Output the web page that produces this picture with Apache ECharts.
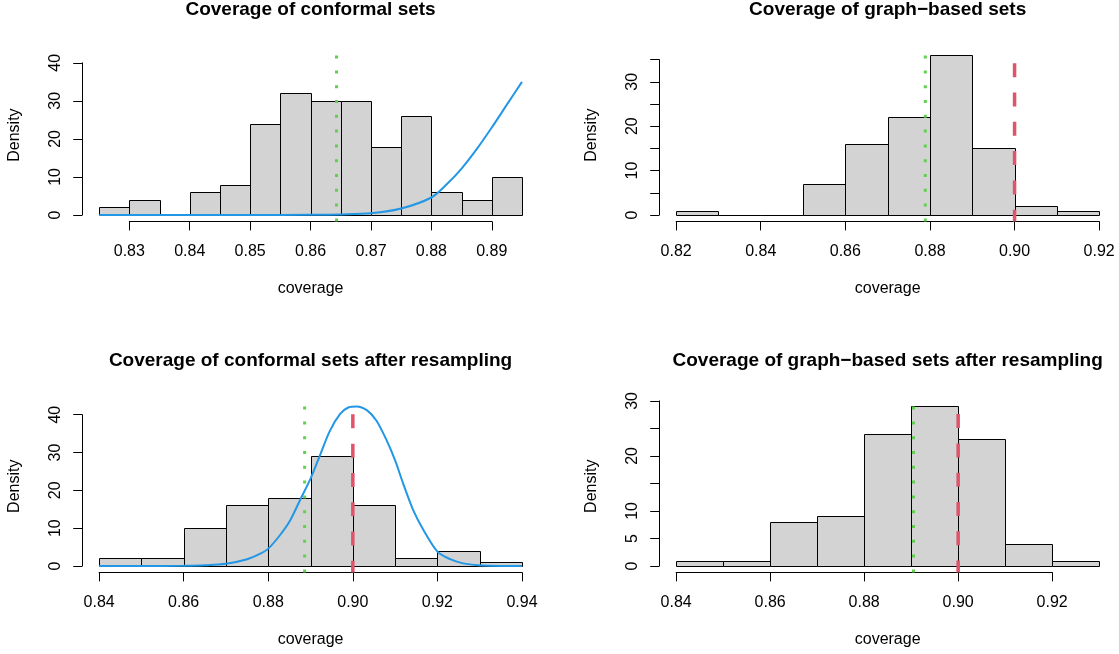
<!DOCTYPE html>
<html>
<head>
<meta charset="utf-8">
<script src="https://cdn.jsdelivr.net/npm/echarts@6/dist/echarts.min.js"></script>
<style>
  html, body { margin: 0; padding: 0; background: #fff; }
  #main { width: 1119px; height: 654px; }
</style>
</head>
<body>
<div id="main"></div>
<script>
// ---- data ----

// Coverage of conformal sets
const conformalBreaks = [0.825, 0.830, 0.835, 0.840, 0.845, 0.850, 0.855, 0.860, 0.865, 0.870, 0.875, 0.880, 0.885, 0.890, 0.895];
const conformalDensity = [2, 4, 0, 6, 8, 24, 32, 30, 30, 18, 26, 6, 4, 10];
const conformalCurveX = [0.825, 0.840, 0.850, 0.860, 0.865, 0.870, 0.875, 0.880, 0.8825, 0.885, 0.8875, 0.890, 0.8925, 0.895];
const conformalCurveY = [0, 0, 0, 0.05, 0.15, 0.45, 1.7, 4.6, 8.0, 12.2, 17.3, 23.0, 29.0, 35.0];
const conformalMean = 0.8643;

// Coverage of graph-based sets
const graphBreaks = [0.82, 0.83, 0.84, 0.85, 0.86, 0.87, 0.88, 0.89, 0.90, 0.91, 0.92];
const graphDensity = [1, 0, 0, 7, 16, 22, 36, 15, 2, 1];
const graphMean = 0.8789;

// Coverage of conformal sets after resampling
const conformalResBreaks = [0.84, 0.85, 0.86, 0.87, 0.88, 0.89, 0.90, 0.91, 0.92, 0.93, 0.94];
const conformalResDensity = [2, 2, 10, 16, 18, 29, 16, 2, 4, 1];
const conformalResCurveX = [0.840, 0.850, 0.860, 0.865, 0.870, 0.875, 0.878, 0.880, 0.8828, 0.8852, 0.8875, 0.890, 0.8922,
    0.8946, 0.897, 0.8989, 0.9009, 0.9033, 0.9056, 0.908, 0.910, 0.9119, 0.9143, 0.9167, 0.920, 0.923, 0.9261, 0.9297, 0.935, 0.940];
const conformalResCurveY = [0, 0, 0.05, 0.2, 0.6, 1.8, 3.2, 4.6, 8.2, 12.1, 17.4, 23.1, 29.2,
    35.8, 40.2, 41.9, 42.2, 41.2, 38.4, 33.2, 27.9, 21.8, 14.7, 9.5, 3.8, 1.8, 0.7, 0.2, 0.02, 0];
const conformalResMean = 0.8886;

// Coverage of graph-based sets after resampling
const graphResBreaks = [0.84, 0.85, 0.86, 0.87, 0.88, 0.89, 0.90, 0.91, 0.92, 0.93];
const graphResDensity = [1, 1, 8, 9, 24, 29, 23, 4, 1];
const graphResMean = 0.8905;

const targetCoverage = 0.90;
const yLimits = [42, 36, 42.2, 29];
const targetTops = [null, 34.2, 40.1, 27.6];

// tick labels
const xTicks1 = [0.83, 0.84, 0.85, 0.86, 0.87, 0.88, 0.89];
const xTicks2 = [0.82, 0.84, 0.86, 0.88, 0.90, 0.92];
const xTicks3 = [0.84, 0.86, 0.88, 0.90, 0.92, 0.94];
const xTicks4 = [0.84, 0.86, 0.88, 0.90, 0.92];
const yTicks1 = [0, 10, 20, 30, 40];
const yTicks2 = [0, 5, 10, 15, 20, 25, 30, 35];
const yTicks3 = [0, 10, 20, 30, 40];
const yTicks4 = [0, 5, 10, 15, 20, 25, 30];
const yLabels2 = [0, 10, 20, 30];
const yLabels4 = [0, 5, 10, 20, 30];

const titles = [
    'Coverage of conformal sets',
    'Coverage of graph\u2212based sets',
    'Coverage of conformal sets after resampling',
    'Coverage of graph\u2212based sets after resampling'
];

// ---- layout ----
const FONT = '"Liberation Sans", Arial, Helvetica, sans-serif';
const BLUE = '#2297E6', GREEN = '#61D04F', RED = '#DF536B';

const panels = [
    { left: 82.2, top: 48.8, width: 456.7, height: 172.6, breaks: conformalBreaks, dens: conformalDensity,
      curveX: conformalCurveX, curveY: conformalCurveY, mean: conformalMean, ymax: yLimits[0], redTop: targetTops[0],
      xTicks: xTicks1, yTicks: yTicks1, yLabels: yTicks1, title: titles[0] },
    { left: 659.2, top: 48.8, width: 456.9, height: 172.6, breaks: graphBreaks, dens: graphDensity,
      mean: graphMean, ymax: yLimits[1], redTop: targetTops[1],
      xTicks: xTicks2, yTicks: yTicks2, yLabels: yLabels2, title: titles[1] },
    { left: 82.2, top: 400, width: 456.7, height: 172.4, breaks: conformalResBreaks, dens: conformalResDensity,
      curveX: conformalResCurveX, curveY: conformalResCurveY, mean: conformalResMean, ymax: yLimits[2], redTop: targetTops[2],
      xTicks: xTicks3, yTicks: yTicks3, yLabels: yTicks3, title: titles[2] },
    { left: 659.2, top: 400, width: 456.9, height: 172.4, breaks: graphResBreaks, dens: graphResDensity,
      mean: graphResMean, ymax: yLimits[3], redTop: targetTops[3],
      xTicks: xTicks4, yTicks: yTicks4, yLabels: yLabels4, title: titles[3] }
];

const grids = [], xAxes = [], yAxes = [], series = [], graphics = [];

const hidden = { show: false };
const txt = { color: '#000', fontFamily: FONT, fontSize: 16 };

panels.forEach((p, i) => {
    // R style: 4% padding on both axes
    const x0 = p.breaks[0], x1 = p.breaks[p.breaks.length - 1];
    const xpad = (x1 - x0) * 0.04;
    const xmin = x0 - xpad, xmax = x1 + xpad;
    const ymin = -0.04 * p.ymax, ymax = 1.04 * p.ymax;
    const px = v => p.left + (v - xmin) / (xmax - xmin) * p.width;
    const py = v => p.top + (ymax - v) / (ymax - ymin) * p.height;

    const g = grids.length;

    // data grid (plot region)
    grids.push({ left: p.left, top: p.top, width: p.width, height: p.height, containLabel: false, outerBoundsMode: 'none' });
    xAxes.push({
        gridIndex: g, type: 'value', min: xmin, max: xmax,
        axisLine: hidden, axisTick: hidden, axisLabel: hidden, splitLine: hidden,
        name: 'coverage', nameLocation: 'middle', nameGap: 59, nameTextStyle: txt
    });
    yAxes.push({
        gridIndex: g, type: 'value', min: ymin, max: ymax,
        axisLine: hidden, axisTick: hidden, axisLabel: hidden, splitLine: hidden,
        name: 'Density', nameLocation: 'middle', nameRotate: 90, nameGap: 60, nameTextStyle: txt
    });

    // x axis drawn from first to last tick
    const xa = p.xTicks[0], xb = p.xTicks[p.xTicks.length - 1];
    grids.push({ left: px(xa), top: p.top, width: px(xb) - px(xa), height: p.height, containLabel: false, outerBoundsMode: 'none' });
    xAxes.push({
        gridIndex: g + 1, type: 'value', min: xa, max: xb, interval: p.xTicks[1] - p.xTicks[0],
        axisLine: { show: true, lineStyle: { color: '#000', width: 1 } },
        axisTick: { show: true, length: 9, lineStyle: { color: '#000', width: 1 } },
        axisLabel: { margin: 22, ...txt, formatter: v => v.toFixed(2) },
        splitLine: hidden
    });
    yAxes.push({ gridIndex: g + 1, type: 'value', min: 0, max: 1, show: false });

    // y axis drawn from 0 to top tick
    const ya = p.yTicks[0], yb = p.yTicks[p.yTicks.length - 1];
    const shown = p.yLabels;
    grids.push({ left: p.left, top: py(yb), width: p.width, height: py(ya) - py(yb), containLabel: false, outerBoundsMode: 'none' });
    xAxes.push({ gridIndex: g + 2, type: 'value', min: 0, max: 1, show: false });
    yAxes.push({
        gridIndex: g + 2, type: 'value', min: ya, max: yb, interval: p.yTicks[1] - p.yTicks[0],
        axisLine: { show: true, lineStyle: { color: '#000', width: 1 } },
        axisTick: { show: true, length: 9, lineStyle: { color: '#000', width: 1 } },
        axisLabel: { margin: 19, rotate: 90, ...txt,
            formatter: v => shown.indexOf(Math.round(v)) >= 0 ? String(Math.round(v)) : '' },
        splitLine: hidden
    });

    // histogram bars
    const bars = p.dens.map((d, k) => [p.breaks[k], p.breaks[k + 1], d]);
    series.push({
        type: 'custom', xAxisIndex: g, yAxisIndex: g, z: 2,
        data: bars,
        encode: { x: [0, 1], y: 2 },
        renderItem: (params, api) => {
            const a = api.coord([api.value(0), 0]);
            const b = api.coord([api.value(1), api.value(2)]);
            const xl = Math.round(a[0]) + 0.5, xr = Math.round(b[0]) + 0.5;
            const yb0 = Math.round(a[1]) + 0.5, yt = Math.round(b[1]) + 0.5;
            return {
                type: 'rect',
                shape: { x: xl, y: yt, width: xr - xl, height: yb0 - yt },
                style: { fill: '#D3D3D3', stroke: '#000', lineWidth: 1 }
            };
        }
    });

    // normal density curve
    if (p.curveX) {
        series.push({
            type: 'line', xAxisIndex: g, yAxisIndex: g, z: 3,
            data: p.curveX.map((x, k) => [x, p.curveY[k]]),
            smooth: 0.3, showSymbol: false, symbol: 'none',
            lineStyle: { color: BLUE, width: 2 }
        });
    }

    // mean coverage (green dotted)
    series.push({
        type: 'line', xAxisIndex: g, yAxisIndex: g, z: 4,
        data: [[p.mean, ymin], [p.mean, ymax]],
        showSymbol: false, symbol: 'none',
        lineStyle: { color: GREEN, width: 3, type: [3, 11.8] }
    });

    // target coverage (red dashed)
    if (p.redTop != null) {
        series.push({
            type: 'line', xAxisIndex: g, yAxisIndex: g, z: 5,
            data: [[targetCoverage, p.redTop], [targetCoverage, ymin]],
            showSymbol: false, symbol: 'none',
            lineStyle: { color: RED, width: 3.5, type: [14, 15.3] }
        });
    }

    // panel title
    graphics.push({
        type: 'text', x: p.left + p.width / 2, y: i < 2 ? 10 : 360.7,
        style: { text: p.title, fill: '#000', font: 'bold 19px ' + FONT,
                 align: 'center', verticalAlign: 'middle', textAlign: 'center', textVerticalAlign: 'middle' }
    });
});

const chart = echarts.init(document.getElementById('main'), null, { renderer: 'canvas' });
chart.setOption({
    animation: false,
    backgroundColor: '#fff',
    grid: grids,
    xAxis: xAxes,
    yAxis: yAxes,
    series: series,
    graphic: graphics
});
</script>
</body>
</html>
